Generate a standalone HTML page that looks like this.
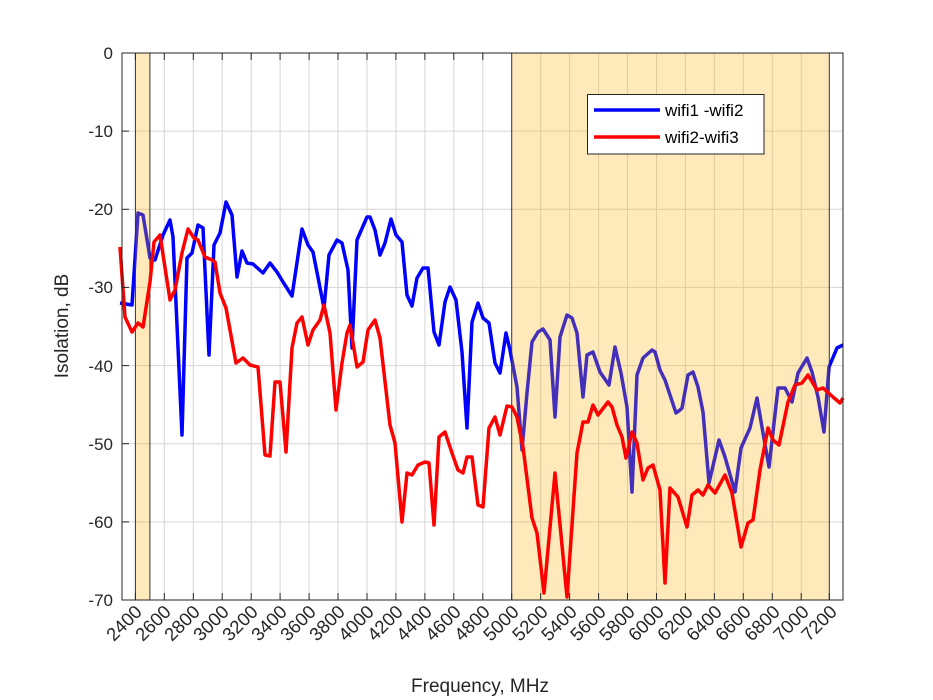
<!DOCTYPE html>
<html><head><meta charset="utf-8"><style>
html,body{margin:0;padding:0;background:#fff;}
svg{display:block;font-family:"Liberation Sans",Arial,sans-serif;}
</style></head><body>
<svg width="933" height="700" viewBox="0 0 933 700" xmlns="http://www.w3.org/2000/svg">
<rect x="0" y="0" width="933" height="700" fill="#fff"/>
<g id="grid" stroke="#d6d6d6" stroke-width="1">
<line x1="164.3" y1="53" x2="164.3" y2="600"/><line x1="193.3" y1="53" x2="193.3" y2="600"/>
<line x1="222.2" y1="53" x2="222.2" y2="600"/><line x1="251.2" y1="53" x2="251.2" y2="600"/>
<line x1="280.1" y1="53" x2="280.1" y2="600"/><line x1="309.1" y1="53" x2="309.1" y2="600"/>
<line x1="338.0" y1="53" x2="338.0" y2="600"/><line x1="367.0" y1="53" x2="367.0" y2="600"/>
<line x1="395.9" y1="53" x2="395.9" y2="600"/><line x1="424.9" y1="53" x2="424.9" y2="600"/>
<line x1="453.8" y1="53" x2="453.8" y2="600"/><line x1="482.8" y1="53" x2="482.8" y2="600"/>
<line x1="540.7" y1="53" x2="540.7" y2="600"/><line x1="569.6" y1="53" x2="569.6" y2="600"/>
<line x1="598.6" y1="53" x2="598.6" y2="600"/><line x1="627.5" y1="53" x2="627.5" y2="600"/>
<line x1="656.5" y1="53" x2="656.5" y2="600"/><line x1="685.4" y1="53" x2="685.4" y2="600"/>
<line x1="714.4" y1="53" x2="714.4" y2="600"/><line x1="743.3" y1="53" x2="743.3" y2="600"/>
<line x1="772.3" y1="53" x2="772.3" y2="600"/><line x1="801.2" y1="53" x2="801.2" y2="600"/>
<line x1="122" y1="131.1" x2="843" y2="131.1"/><line x1="122" y1="209.3" x2="843" y2="209.3"/>
<line x1="122" y1="287.4" x2="843" y2="287.4"/><line x1="122" y1="365.6" x2="843" y2="365.6"/>
<line x1="122" y1="443.7" x2="843" y2="443.7"/><line x1="122" y1="521.9" x2="843" y2="521.9"/>
</g>
<polyline fill="none" stroke="#0000ff" stroke-width="3.5" stroke-linejoin="round" points="120,303 132,305 138,213 143,215 150,258 155,260 163,235 170,220 173,237 182,435 187,258 192,253 198,225 203,228 209,355 214,245 220,233 226,202 232,215 237,277 242,251 247,263 253,264 263,273 270,263 277,272 283,282 292,296 302,229 308,245 313,252 324,308 329,255 337,240 342,243 348,270 352,348 357,240 367,217 370,217 375,230 380,255 385,243 391,219 396,235 402,242 407,295 412,306 417,278 423,268 428,268 434,332 439,345 445,302 450,287 456,300 462,352 467,428 472,322 478,303 483,318 489,323 495,363 500,373 506,333 510,350 517,387 522,450 527,393 532,342 538,332 543,329 550,340 555,417 560,337 567,315 572,318 577,333 583,397 587,355 593,352 600,372 609,385 615,347 621,373 627,407 632,492 637,375 643,358 652,350 655,352 660,370 665,380 676,413 680,410 682,408 688,375 693,372 698,387 703,412 709,483 719,440 725,457 735,492 741,448 750,428 757,398 763,433 769,467 778,388 785,388 792,402 798,373 807,358 812,372 818,397 824,432 829,367 837,348 843,345"/>
<g fill="rgb(250,175,0)" fill-opacity="0.27" stroke="#333" stroke-width="1">
<rect x="135.4" y="53" width="14.5" height="547"/>
<rect x="511.7" y="53" width="317.6" height="547"/>
</g>
<polyline fill="none" stroke="#ff0000" stroke-width="3.5" stroke-linejoin="round" points="120,247 125,317 132,332 138,323 143,327 150,282 154,242 160,235 170,300 175,290 182,253 188,229 194,238 198,240 205,257 212,260 215,262 220,293 226,308 236,363 243,358 250,365 258,367 265,455 270,456 275,382 280,382 286,452 292,348 297,323 302,317 308,345 313,330 320,320 324,305 330,333 336,410 342,363 347,333 350,325 357,367 363,362 368,330 375,320 380,338 390,425 395,443 402,522 407,473 412,475 418,465 425,462 429,463 434,525 439,437 445,432 452,453 458,470 463,473 467,457 472,457 478,505 483,507 489,428 495,417 500,435 507,406 512,407 517,417 523,447 532,518 537,533 544,593 555,473 567,597 577,453 583,422 588,422 593,405 598,415 608,402 612,407 617,425 622,437 626,458 632,432 637,443 643,480 648,468 653,465 660,490 665,583 670,488 678,497 687,527 692,495 698,490 703,495 708,485 715,493 725,475 732,493 741,547 748,523 753,520 760,470 768,428 773,440 779,445 788,402 795,385 802,383 808,375 817,390 823,388 833,397 840,403 843,398"/>
<rect x="122" y="53" width="721" height="547" fill="none" stroke="#262626" stroke-width="1"/>
<g stroke="#262626" stroke-width="1">
<line x1="135.4" y1="600" x2="135.4" y2="593"/><line x1="164.3" y1="600" x2="164.3" y2="593"/><line x1="193.3" y1="600" x2="193.3" y2="593"/><line x1="222.2" y1="600" x2="222.2" y2="593"/><line x1="251.2" y1="600" x2="251.2" y2="593"/><line x1="280.1" y1="600" x2="280.1" y2="593"/><line x1="309.1" y1="600" x2="309.1" y2="593"/><line x1="338" y1="600" x2="338" y2="593"/><line x1="367" y1="600" x2="367" y2="593"/><line x1="395.9" y1="600" x2="395.9" y2="593"/><line x1="424.9" y1="600" x2="424.9" y2="593"/><line x1="453.8" y1="600" x2="453.8" y2="593"/><line x1="482.8" y1="600" x2="482.8" y2="593"/><line x1="511.7" y1="600" x2="511.7" y2="593"/><line x1="540.7" y1="600" x2="540.7" y2="593"/><line x1="569.6" y1="600" x2="569.6" y2="593"/><line x1="598.6" y1="600" x2="598.6" y2="593"/><line x1="627.5" y1="600" x2="627.5" y2="593"/><line x1="656.5" y1="600" x2="656.5" y2="593"/><line x1="685.4" y1="600" x2="685.4" y2="593"/><line x1="714.4" y1="600" x2="714.4" y2="593"/><line x1="743.3" y1="600" x2="743.3" y2="593"/><line x1="772.3" y1="600" x2="772.3" y2="593"/><line x1="801.2" y1="600" x2="801.2" y2="593"/><line x1="829.3" y1="600" x2="829.3" y2="593"/>
<line x1="135.4" y1="53" x2="135.4" y2="60"/><line x1="164.3" y1="53" x2="164.3" y2="60"/><line x1="193.3" y1="53" x2="193.3" y2="60"/><line x1="222.2" y1="53" x2="222.2" y2="60"/><line x1="251.2" y1="53" x2="251.2" y2="60"/><line x1="280.1" y1="53" x2="280.1" y2="60"/><line x1="309.1" y1="53" x2="309.1" y2="60"/><line x1="338" y1="53" x2="338" y2="60"/><line x1="367" y1="53" x2="367" y2="60"/><line x1="395.9" y1="53" x2="395.9" y2="60"/><line x1="424.9" y1="53" x2="424.9" y2="60"/><line x1="453.8" y1="53" x2="453.8" y2="60"/><line x1="482.8" y1="53" x2="482.8" y2="60"/>
<line x1="122" y1="53" x2="129" y2="53"/><line x1="122" y1="131.1" x2="129" y2="131.1"/><line x1="122" y1="209.3" x2="129" y2="209.3"/><line x1="122" y1="287.4" x2="129" y2="287.4"/><line x1="122" y1="365.6" x2="129" y2="365.6"/><line x1="122" y1="443.7" x2="129" y2="443.7"/><line x1="122" y1="521.9" x2="129" y2="521.9"/><line x1="122" y1="600" x2="129" y2="600"/>
</g>
<g font-size="17" fill="#262626" text-anchor="end">
<text x="113" y="59">0</text><text x="113" y="137">-10</text><text x="113" y="215">-20</text><text x="113" y="293">-30</text><text x="113" y="372">-40</text><text x="113" y="450">-50</text><text x="113" y="528">-60</text><text x="113" y="606">-70</text>
</g>
<g font-size="18.5" fill="#262626" text-anchor="end">
<text transform="translate(143,613) rotate(-45)">2400</text><text transform="translate(172,613) rotate(-45)">2600</text><text transform="translate(201,613) rotate(-45)">2800</text><text transform="translate(230,613) rotate(-45)">3000</text><text transform="translate(259,613) rotate(-45)">3200</text><text transform="translate(288,613) rotate(-45)">3400</text><text transform="translate(317,613) rotate(-45)">3600</text><text transform="translate(346,613) rotate(-45)">3800</text><text transform="translate(375,613) rotate(-45)">4000</text><text transform="translate(404,613) rotate(-45)">4200</text><text transform="translate(433,613) rotate(-45)">4400</text><text transform="translate(462,613) rotate(-45)">4600</text><text transform="translate(491,613) rotate(-45)">4800</text><text transform="translate(520,613) rotate(-45)">5000</text><text transform="translate(549,613) rotate(-45)">5200</text><text transform="translate(578,613) rotate(-45)">5400</text><text transform="translate(607,613) rotate(-45)">5600</text><text transform="translate(636,613) rotate(-45)">5800</text><text transform="translate(665,613) rotate(-45)">6000</text><text transform="translate(694,613) rotate(-45)">6200</text><text transform="translate(723,613) rotate(-45)">6400</text><text transform="translate(752,613) rotate(-45)">6600</text><text transform="translate(781,613) rotate(-45)">6800</text><text transform="translate(810,613) rotate(-45)">7000</text><text transform="translate(838,613) rotate(-45)">7200</text>
</g>
<text x="480" y="692" font-size="19" fill="#262626" text-anchor="middle">Frequency, MHz</text>
<text transform="translate(68,326) rotate(-90)" font-size="19" fill="#262626" text-anchor="middle">Isolation, dB</text>
<rect x="587.5" y="94.5" width="176.5" height="59.5" fill="#fff" stroke="#262626" stroke-width="1"/>
<line x1="594" y1="110" x2="660" y2="110" stroke="#0000ff" stroke-width="3.5"/>
<line x1="594" y1="137" x2="660" y2="137" stroke="#ff0000" stroke-width="3.5"/>
<text x="665" y="116" font-size="17" fill="#000">wifi1 -wifi2</text>
<text x="665" y="143" font-size="17" fill="#000">wifi2-wifi3</text>
</svg>
</body></html>
